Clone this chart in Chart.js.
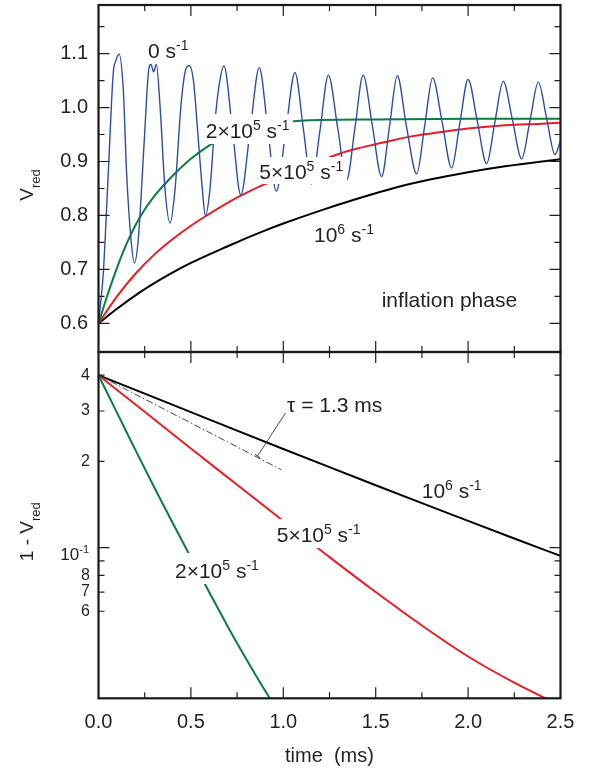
<!DOCTYPE html>
<html><head><meta charset="utf-8">
<script src="https://cdn.jsdelivr.net/npm/chart.js@4.4.1/dist/chart.umd.min.js"></script>
<style>
html,body{margin:0;padding:0;background:#fff;}
#wrap{position:relative;width:590px;height:770px;overflow:hidden;background:#fff;}
#c1{position:absolute;left:0;top:0;}
#c2{position:absolute;left:0;top:340px;}
</style></head><body>
<div id="wrap"><canvas id="c1" width="590" height="360"></canvas><canvas id="c2" width="590" height="430"></canvas></div>
<script>
// ---------- tick definitions ----------
const timeTicks = [0,0.25,0.5,0.75,1,1.25,1.5,1.75,2,2.25,2.5];
const timeTickLabels = ['0.0','','0.5','','1.0','','1.5','','2.0','','2.5'];
const vTicks = [0.6,0.65,0.7,0.75,0.8,0.85,0.9,0.95,1.0,1.05,1.1,1.15];
const vTickLabels = ['0.6','','0.7','','0.8','','0.9','','1.0','','1.1',''];
const dTicks = [0.4,0.3,0.2,0.1,0.09,0.08,0.07,0.06];
const dTickLabels = ['4','3','2','','','8','7','6'];

// ---------- top panel: V_red ----------
const tBlue = [0,0.026,0.053,0.080,0.093,0.111,0.134,0.152,0.176,0.194,0.215,0.248,0.270,0.284,0.298,0.313,0.333,0.360,0.387,0.414,0.446,0.468,0.490,0.513,0.540,0.562,0.578,0.603,0.630,0.652,0.679,0.725,0.770,0.820,0.870,0.916,0.962,1.013,1.063,1.108,1.153,1.199,1.244,1.294,1.343,1.388,1.432,1.482,1.532,1.575,1.617,1.665,1.722,1.765,1.808,1.860,1.911,1.955,2.000,2.050,2.100,2.145,2.190,2.240,2.290,2.335,2.380,2.425,2.470,2.500];
const vBlue = [0.600,0.693,0.879,1.065,1.086,1.099,1.034,0.879,0.755,0.712,0.755,0.941,1.065,1.080,1.066,1.080,1.003,0.848,0.786,0.848,1.003,1.065,1.078,1.052,0.941,0.848,0.800,0.848,0.972,1.040,1.077,0.958,0.838,0.956,1.074,0.960,0.845,0.955,1.065,0.962,0.858,0.959,1.060,0.963,0.866,0.963,1.060,0.966,0.872,0.966,1.059,0.968,0.877,0.966,1.055,0.972,0.888,0.970,1.052,0.974,0.896,0.973,1.049,0.977,0.905,0.976,1.047,0.980,0.913,0.938];
const tGreen = [0,0.05,0.1,0.15,0.2,0.25,0.3,0.4,0.5,0.6,0.7,0.8,0.9,1.0,1.2,1.5,2.0,2.5];
const vGreen = [0.600,0.654,0.703,0.746,0.782,0.811,0.835,0.873,0.905,0.930,0.948,0.960,0.968,0.973,0.977,0.978,0.979,0.979];
const tRed = [0,0.1,0.2,0.3,0.4,0.5,0.6,0.7,0.8,0.9,1.0,1.1,1.2,1.3,1.4,1.5,1.6,1.7,1.8,2.0,2.2,2.4,2.5];
const vRed = [0.600,0.650,0.692,0.727,0.756,0.781,0.803,0.824,0.842,0.858,0.872,0.887,0.901,0.914,0.924,0.932,0.940,0.947,0.952,0.961,0.967,0.970,0.972];
const tBlack = [0,0.1,0.2,0.3,0.4,0.5,0.6,0.7,0.8,0.9,1.0,1.2,1.4,1.6,1.8,2.0,2.2,2.4,2.5];
const vBlack = [0.600,0.627,0.652,0.674,0.694,0.712,0.728,0.743,0.758,0.772,0.785,0.809,0.831,0.851,0.867,0.880,0.891,0.900,0.904];

// ---------- bottom panel: 1 - V_red (log) ----------
const tBlackLog = [0,0.25,0.5,0.75,1.0,1.25,1.5,1.75,2.0,2.25,2.5];
const dBlackLog = [0.400,0.3448,0.2972,0.2562,0.2211,0.1910,0.1652,0.1431,0.1241,0.1077,0.0936];
const tRedLog = [0,0.25,0.5,0.75,1.0,1.25,1.5,1.75,2.0,2.25,2.5];
const dRedLog = [0.400,0.298,0.222,0.1658,0.1239,0.0927,0.0700,0.0535,0.0417,0.0338,0.0281];
const tGreenLog = [0,0.1,0.2,0.3,0.4,0.5,0.6,0.7,0.8,0.9,1.0];
const dGreenLog = [0.400,0.296,0.219,0.1632,0.1224,0.0924,0.0698,0.0530,0.0408,0.0318,0.0251];
const tTau = [0,0.99];
const dTau = [0.400,0.187];

const FONT = '"Liberation Sans", Arial, Helvetica, sans-serif';
const INK = '#231f20';
Chart.defaults.font.family = FONT;
Chart.defaults.color = INK;

const pts = (ts, vs) => ts.map((t,i)=>({x:t, y:vs[i]}));
const noPad = s => { s.paddingTop=0; s.paddingBottom=0; s.paddingLeft=0; s.paddingRight=0; };

function rich(ctx, parts, x, y, size, align){
  const small = Math.round(size*0.66);
  let w = 0;
  const ws = parts.map(([t,md])=>{ctx.font=(md?small:size)+'px '+FONT; const ww=ctx.measureText(t).width; w+=ww; return ww;});
  let cx = align==='right' ? x-w : align==='center' ? x-w/2 : x;
  ctx.textAlign='left'; ctx.textBaseline='alphabetic';
  parts.forEach(([t,md],i)=>{
    ctx.font=(md?small:size)+'px '+FONT;
    const dy = md===1 ? -size*0.38 : md===2 ? size*0.36 : 0;
    ctx.fillText(t,cx,y+dy); cx+=ws[i];
  });
  return w;
}

function labels(ctx, list){
  ctx.save();
  list.forEach(L=>{
    if(L.box){ ctx.fillStyle='#fff'; ctx.fillRect(L.box[0],L.box[1],L.box[2]-L.box[0],L.box[3]-L.box[1]); }
    ctx.fillStyle=INK;
    rich(ctx, L.parts, L.x, L.y, L.size||21, 'left');
  });
  ctx.restore();
}

function decor(chart, yVals, isMajorY){
  const {ctx, chartArea:a} = chart; const sx=chart.scales.x, sy=chart.scales.y;
  ctx.save();
  ctx.strokeStyle=INK; ctx.lineWidth=1.2; ctx.beginPath();
  timeTicks.forEach((v,i)=>{
    const px=sx.getPixelForValue(v); if(px<=a.left+1||px>=a.right-1) return;
    const L = timeTickLabels[i] ? 11 : 6;
    ctx.moveTo(px,a.top); ctx.lineTo(px,a.top+L);
    ctx.moveTo(px,a.bottom); ctx.lineTo(px,a.bottom-L);
  });
  yVals.forEach((v,i)=>{
    const py=sy.getPixelForValue(v); if(py<=a.top+1||py>=a.bottom-1) return;
    const L = isMajorY(v,i) ? 11 : 6;
    ctx.moveTo(a.left,py); ctx.lineTo(a.left+L,py);
    ctx.moveTo(a.right,py); ctx.lineTo(a.right-L,py);
  });
  ctx.stroke();
  ctx.lineWidth=2.2; ctx.strokeStyle='#1a1a1a';
  ctx.strokeRect(a.left,a.top,a.right-a.left,a.bottom-a.top);
  ctx.restore();
}

function yTitle(ctx, parts, cx, cy){
  ctx.save(); ctx.translate(cx,cy); ctx.rotate(-Math.PI/2); ctx.fillStyle=INK;
  rich(ctx, parts, 0, 0, 19, 'center');
  ctx.restore();
}

const lineDs = (data, color, w, extra) => Object.assign({data, borderColor:color, borderWidth:w, pointRadius:0, fill:false, cubicInterpolationMode:'monotone', tension:0.4}, extra||{});

// ---------- top chart ----------
new Chart(document.getElementById('c1'), {
  type:'line',
  data:{datasets:[
    lineDs(pts(tBlue,vBlue), '#2d4fa3', 1.4),
    lineDs(pts(tGreen,vGreen), '#0b7d3e', 2),
    lineDs(pts(tRed,vRed), '#ec1c24', 2),
    lineDs(pts(tBlack,vBlack), '#000000', 2)
  ]},
  options:{
    responsive:false, animation:false, events:[],
    layout:{padding:{left:0,right:29.5,top:5,bottom:8}},
    plugins:{legend:{display:false}, tooltip:{enabled:false}},
    scales:{
      x:{type:'linear', min:0, max:2.5, display:false},
      y:{type:'linear', min:0.547, max:1.19,
         afterFit(s){ s.width=98.5; noPad(s); },
         afterBuildTicks(s){ s.ticks = vTicks.map(v=>({value:v})); },
         grid:{display:false, drawTicks:false, tickLength:0}, border:{display:false},
         ticks:{autoSkip:false, padding:10.5, font:{size:20}, color:INK, callback:(v,i)=>vTickLabels[i]}
      }
    }
  },
  plugins:[{
    id:'topDecor',
    afterDatasetsDraw(chart){
      labels(chart.ctx, [
        {x:148, y:58, parts:[['0 s',0],['-1',1]]},
        {x:205.7, y:138, box:[204,114,293,144], parts:[['2×10',0],['5',1],[' s',0],['-1',1]]},
        {x:259.3, y:179.3, box:[257,157,347,184], parts:[['5×10',0],['5',1],[' s',0],['-1',1]]},
        {x:314, y:241.7, parts:[['10',0],['6',1],[' s',0],['-1',1]]},
        {x:381.7, y:306.7, parts:[['inflation phase',0]]}
      ]);
    },
    afterDraw(chart){
      decor(chart, vTicks, (v,i)=>vTickLabels[i]!=='');
      yTitle(chart.ctx, [['V',0],['red',2]], 33.3, 185);
    }
  }]
});

// ---------- bottom chart ----------
new Chart(document.getElementById('c2'), {
  type:'line',
  data:{datasets:[
    lineDs(pts(tTau,dTau), '#444444', 1, {borderDash:[7,2.5,1.5,2.5], cubicInterpolationMode:'default', tension:0}),
    lineDs(pts(tGreenLog,dGreenLog), '#0b7d3e', 2),
    lineDs(pts(tRedLog,dRedLog), '#ec1c24', 2),
    lineDs(pts(tBlackLog,dBlackLog), '#000000', 2)
  ]},
  options:{
    responsive:false, animation:false, events:[],
    layout:{padding:{left:0,right:29.5,top:12,bottom:0}},
    plugins:{legend:{display:false}, tooltip:{enabled:false}},
    scales:{
      x:{type:'linear', min:0, max:2.5,
         afterFit(s){ s.height=71.7; noPad(s); },
         afterBuildTicks(s){ s.ticks = timeTicks.map(v=>({value:v})); },
         grid:{display:false, drawTicks:false, tickLength:0}, border:{display:false},
         ticks:{autoSkip:false, maxRotation:0, padding:12, font:{size:20}, color:INK, callback:(v,i)=>timeTickLabels[i]},
         title:{display:true, text:'time  (ms)', font:{size:20}, color:INK, padding:{top:0,bottom:1.5}}
      },
      y:{type:'logarithmic', min:0.0298, max:0.482,
         afterFit(s){ s.width=98.5; noPad(s); },
         afterBuildTicks(s){ s.ticks = dTicks.map(v=>({value:v})); },
         grid:{display:false, drawTicks:false, tickLength:0}, border:{display:false},
         ticks:{autoSkip:false, padding:8.5, font:{size:16}, color:INK, callback:(v,i)=>dTickLabels[i]}
      }
    }
  },
  plugins:[{
    id:'botDecor',
    afterDatasetsDraw(chart){
      const ctx=chart.ctx;
      ctx.save();
      ctx.strokeStyle='#333'; ctx.lineWidth=0.9; ctx.beginPath();
      ctx.moveTo(257.5,116); ctx.lineTo(285.5,73);
      ctx.moveTo(257.5-2.6,116-1.7); ctx.lineTo(257.5+2.6,116+1.7);
      ctx.stroke(); ctx.restore();
      labels(ctx, [
        {x:287, y:71.7, parts:[['τ = 1.3 ms',0]]},
        {x:421.7, y:158.3, parts:[['10',0],['6',1],[' s',0],['-1',1]]},
        {x:276.7, y:201.7, box:[274,179,364,208], parts:[['5×10',0],['5',1],[' s',0],['-1',1]]},
        {x:175, y:238.3, box:[173,213,262,244], parts:[['2×10',0],['5',1],[' s',0],['-1',1]]}
      ]);
    },
    afterDraw(chart){
      decor(chart, dTicks, (v)=>v===0.1);
      const ctx=chart.ctx; ctx.save(); ctx.fillStyle=INK;
      const py = chart.scales.y.getPixelForValue(0.1);
      rich(ctx, [['10',0],['-1',1]], 89, py+12, 17, 'right');
      ctx.restore();
      yTitle(ctx, [['1 - V',0],['red',2]], 33.3, 191.7);
    }
  }]
});
</script>
</body></html>
